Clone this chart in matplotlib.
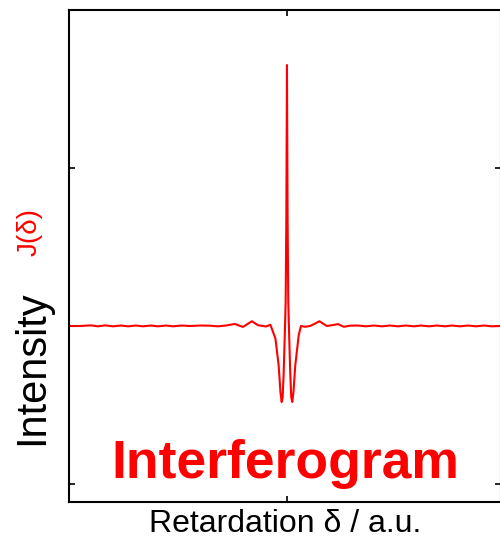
import matplotlib
matplotlib.use('Agg')
import matplotlib.pyplot as plt

plt.rcParams['font.family'] = ['Liberation Sans', 'DejaVu Sans']

# interferogram trace (retardation, intensity)
retardation = [
    -1.000, -0.950, -0.899, -0.867, -0.835, -0.798, -0.761, -0.729, -0.693,
    -0.661, -0.624, -0.592, -0.555, -0.523, -0.486, -0.445, -0.399, -0.353,
    -0.317, -0.280, -0.239, -0.202, -0.161, -0.133, -0.096, -0.076,
    -0.0528, -0.0381, -0.0298, -0.0243, -0.0197, -0.0151, -0.0101, -0.0060,
    -0.0028, 0.0, 0.0028, 0.0060, 0.0101, 0.0151, 0.0197, 0.0243, 0.0298,
    0.0381, 0.0541, 0.0642,
    0.083, 0.106, 0.124, 0.149, 0.183, 0.211, 0.234, 0.261, 0.289, 0.326,
    0.362, 0.399, 0.436, 0.472, 0.509, 0.546, 0.583, 0.615, 0.651, 0.688,
    0.725, 0.757, 0.794, 0.830, 0.867, 0.904, 0.940, 0.982,
]
intensity = [
    0.000, 0.000, 0.004, -0.002, 0.004, -0.002, 0.003, -0.002, 0.003,
    -0.002, 0.003, -0.002, 0.003, -0.002, 0.003, 0.000, 0.003, 0.002,
    -0.002, 0.003, 0.013, -0.006, 0.030, 0.005, -0.003, 0.008,
    -0.080, -0.250, -0.420, -0.481, -0.450, -0.300, -0.060, 0.150,
    0.700, 1.652, 0.700, 0.150, -0.060, -0.300, -0.450, -0.481, -0.420,
    -0.250, -0.057, 0.000,
    -0.005, 0.000, 0.012, 0.030, 0.000, 0.006, 0.012, -0.005, 0.002, 0.003,
    -0.002, 0.003, -0.002, 0.003, -0.002, 0.003, -0.002, 0.003, -0.002, 0.003,
    -0.002, 0.003, -0.002, 0.003, -0.002, 0.003, -0.002, 0.000,
]
y_ticks = [-1, 0, 1]
x_ticks = [0]

fig = plt.figure(figsize=(5, 5.4), dpi=100)
ax = fig.add_axes([0.138, 0.0704, 0.864, 0.911])

ax.plot(retardation, intensity, color='#ff0000', linewidth=1.5,
        solid_joinstyle='round')

ax.set_xlim(-1.0, 0.982)
ax.set_ylim(-1.114, 2.0)
ax.set_xticks(x_ticks)
ax.set_yticks(y_ticks)
ax.tick_params(direction='in', length=4, width=1.2, top=True, right=True,
               labelleft=False, labelbottom=False)
for side in ax.spines.values():
    side.set_linewidth(1.5)

fig.text(0.064, 0.320, 'Intensity', rotation=90, fontsize=30,
         ha='center', va='center', color='black')
fig.text(0.059, 0.570, 'J(δ)', rotation=90, fontsize=20,
         ha='center', va='center', color='#ff0000')
fig.text(0.57, 0.115, 'Interferogram', fontsize=38.5, fontweight='bold',
         ha='center', va='baseline', color='#ff0000')
fig.text(0.57, 0.015, 'Retardation δ / a.u.', fontsize=23,
         ha='center', va='baseline', color='black')

fig.savefig('out.png', dpi=100)
